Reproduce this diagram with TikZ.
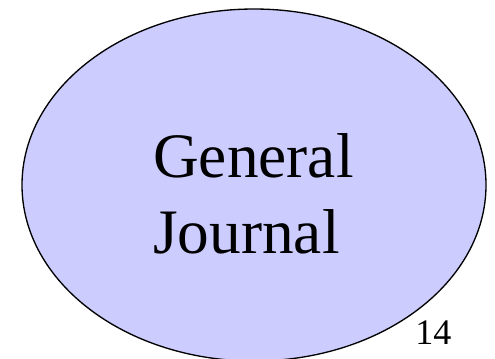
\documentclass[tikz,border=0pt]{standalone}
\usepackage{fontspec}
\setmainfont{Liberation Serif}
\usetikzlibrary{shapes.geometric}
\definecolor{ovalfill}{HTML}{CCCCFF}

\begin{document}
\begin{tikzpicture}[x=0.75pt, y=-0.75pt]
  % page frame, the oval runs off the bottom edge
  \useasboundingbox (0,0) rectangle (495,358);
  \clip (0,0) rectangle (495,358);
  % Oval
  \node[ellipse, draw=black, line width=1pt, fill=ovalfill,
        minimum width=348pt, minimum height=264pt, inner sep=0pt] (oval) at (254,185) {};
  % Title, two lines
  \node[anchor=base west, inner sep=0pt, font=\fontsize{47.5}{56}\selectfont] (general) at (153,177) {General};
  \node[anchor=base west, inner sep=0pt, font=\fontsize{47.5}{56}\selectfont] (journal) at (153,253) {Journal};
  % Page number
  \node[anchor=base west, inner sep=0pt, font=\fontsize{27}{32}\selectfont] (pagenum) at (415,344) {14};
\end{tikzpicture}
\end{document}
